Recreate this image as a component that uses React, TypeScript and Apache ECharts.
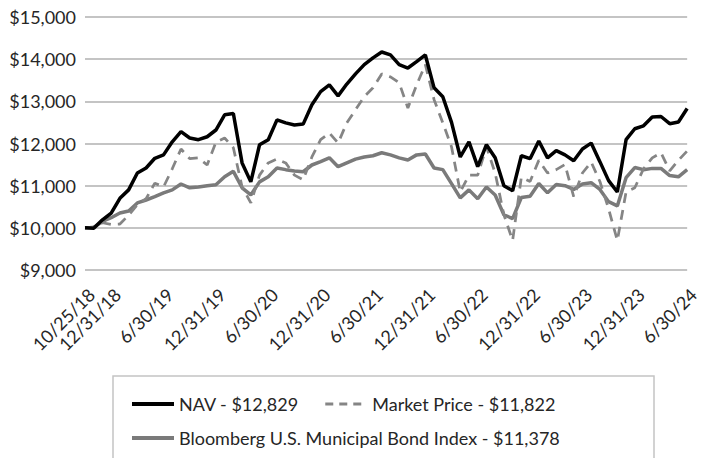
import React, { useEffect, useRef } from "react";
import * as echarts from "echarts";

const dates = [
  "10/25/18", "10/31/18", "11/30/18", "12/31/18",
  "1/31/19", "2/28/19", "3/31/19", "4/30/19", "5/31/19", "6/30/19", "7/31/19", "8/31/19", "9/30/19", "10/31/19", "11/30/19", "12/31/19",
  "1/31/20", "2/29/20", "3/31/20", "4/30/20", "5/31/20", "6/30/20", "7/31/20", "8/31/20", "9/30/20", "10/31/20", "11/30/20", "12/31/20",
  "1/31/21", "2/28/21", "3/31/21", "4/30/21", "5/31/21", "6/30/21", "7/31/21", "8/31/21", "9/30/21", "10/31/21", "11/30/21", "12/31/21",
  "1/31/22", "2/28/22", "3/31/22", "4/30/22", "5/31/22", "6/30/22", "7/31/22", "8/31/22", "9/30/22", "10/31/22", "11/30/22", "12/31/22",
  "1/31/23", "2/28/23", "3/31/23", "4/30/23", "5/31/23", "6/30/23", "7/31/23", "8/31/23", "9/30/23", "10/31/23", "11/30/23", "12/31/23",
  "1/31/24", "2/29/24", "3/31/24", "4/30/24", "5/31/24", "6/30/24",
];

const tickLabels = [
  "10/25/18", "12/31/18", "6/30/19", "12/31/19", "6/30/20", "12/31/20", "6/30/21",
  "12/31/21", "6/30/22", "12/31/22", "6/30/23", "12/31/23", "6/30/24",
];

const navValues = [
  10000, 9990, 10190, 10350, 10700, 10900, 11300, 11420, 11650, 11730, 12040, 12280, 12130, 12090, 12160, 12320,
  12680, 12710, 11540, 11090, 11970, 12090, 12560, 12490, 12440, 12460, 12920, 13230,
  13390, 13130, 13410, 13650, 13870, 14030, 14170, 14100, 13870, 13790, 13940, 14100,
  13320, 13110, 12500, 11680, 12040, 11450, 11970, 11660, 11000, 10880, 11710, 11640,
  12060, 11660, 11830, 11730, 11590, 11870, 12010, 11570, 11120, 10850, 12090, 12350,
  12420, 12630, 12640, 12470, 12510, 12829,
];

const marketValues = [
  10000, 10020, 10120, 10080, 10090, 10300, 10550, 10690, 11060, 10970, 11400, 11870, 11640, 11660, 11490, 12030,
  12130, 11900, 10970, 10590, 11250, 11540, 11630, 11540, 11250, 11140, 11680, 12090,
  12250, 12010, 12490, 12800, 13110, 13320, 13650, 13580, 13440, 12840, 13390, 13870,
  13040, 12490, 11920, 10850, 11250, 11250, 11920, 11300, 10310, 9700, 11200, 11100,
  11600, 11300, 11380, 11500, 10740, 11300, 11560, 11100, 10450, 9700, 10850, 10950,
  11400, 11660, 11780, 11350, 11600, 11822,
];

const indexValues = [
  10000, 10010, 10150, 10240, 10350, 10400, 10590, 10660, 10740, 10830, 10900, 11040, 10950, 10970, 11000, 11020,
  11210, 11340, 10950, 10780, 11090, 11210, 11420, 11380, 11350, 11330, 11490, 11570,
  11660, 11450, 11540, 11630, 11680, 11710, 11780, 11730, 11660, 11610, 11730, 11750,
  11420, 11380, 11050, 10710, 10900, 10690, 10970, 10780, 10310, 10220, 10720, 10750,
  11050, 10830, 11030, 11000, 10910, 11040, 11070, 10910, 10620, 10520, 11190, 11430,
  11380, 11410, 11410, 11240, 11210, 11378,
];

const seriesNames = [
  "NAV - $12,829",
  "Market Price - $11,822",
  "Bloomberg U.S. Municipal Bond Index - $11,378",
];

const FONT = "Lato, 'Open Sans', sans-serif";
const TEXT = "#262626";

export default function App() {
  const ref = useRef<HTMLDivElement>(null);

  useEffect(() => {
    if (!ref.current) return;
    const chart = echarts.init(ref.current, undefined, { renderer: "svg" });
    const legendCommon = {
      itemWidth: 42,
      itemHeight: 16,
      itemStyle: { opacity: 0 },
      lineStyle: { width: 4 },
      textStyle: { fontSize: 18, fontFamily: FONT, color: TEXT },
    };
    chart.setOption({
      animation: false,
      backgroundColor: "#ffffff",
      grid: { left: 85, right: 2, top: 17, bottom: 188, containLabel: false },
      xAxis: {
        type: "category",
        data: dates,
        boundaryGap: false,
        axisLine: { show: false },
        axisTick: { show: false },
        splitLine: { show: false },
        axisLabel: {
          interval: (_i: number, v: string) => tickLabels.includes(v),
          rotate: 45,
          margin: 15,
          verticalAlign: "top",
          fontSize: 18,
          fontFamily: FONT,
          color: TEXT,
        },
      },
      yAxis: {
        type: "value",
        min: 9000,
        max: 15000,
        interval: 1000,
        axisLine: { show: false },
        axisTick: { show: false },
        splitLine: { lineStyle: { color: "#c4c4c4", width: 2 } },
        axisLabel: {
          margin: 9,
          fontSize: 18,
          fontFamily: FONT,
          color: TEXT,
          formatter: (v: number) => "$" + v.toLocaleString("en-US"),
        },
      },
      legend: [
        {
          ...legendCommon,
          data: [
            { name: seriesNames[0] },
            { name: seriesNames[1], lineStyle: { type: [8, 6], width: 3 } },
          ],
          left: 125,
          top: 390,
          itemGap: 25,
        },
        {
          ...legendCommon,
          data: [{ name: seriesNames[2] }],
          left: 125,
          top: 424,
        },
      ],
      graphic: [
        {
          type: "rect",
          shape: { x: 113, y: 376, width: 541, height: 110 },
          style: { fill: "none", stroke: "#c4c4c4", lineWidth: 1.5 },
          silent: true,
        },
      ],
      series: [
        {
          name: seriesNames[2],
          type: "line",
          data: indexValues,
          symbol: "none",
          lineStyle: { color: "#7a7a7a", width: 3.5 },
          itemStyle: { color: "#7a7a7a" },
          z: 2,
        },
        {
          name: seriesNames[1],
          type: "line",
          data: marketValues,
          symbol: "none",
          lineStyle: { color: "#858585", width: 2.75, type: [10, 7] },
          itemStyle: { color: "#858585" },
          z: 3,
        },
        {
          name: seriesNames[0],
          type: "line",
          data: navValues,
          symbol: "none",
          lineStyle: { color: "#000000", width: 3.5 },
          itemStyle: { color: "#000000" },
          z: 4,
        },
      ],
    });
    return () => chart.dispose();
  }, []);

  return (
    <div
      ref={ref}
      style={{ position: "fixed", left: 0, top: 0, width: 702, height: 458, background: "#fff" }}
    />
  );
}
